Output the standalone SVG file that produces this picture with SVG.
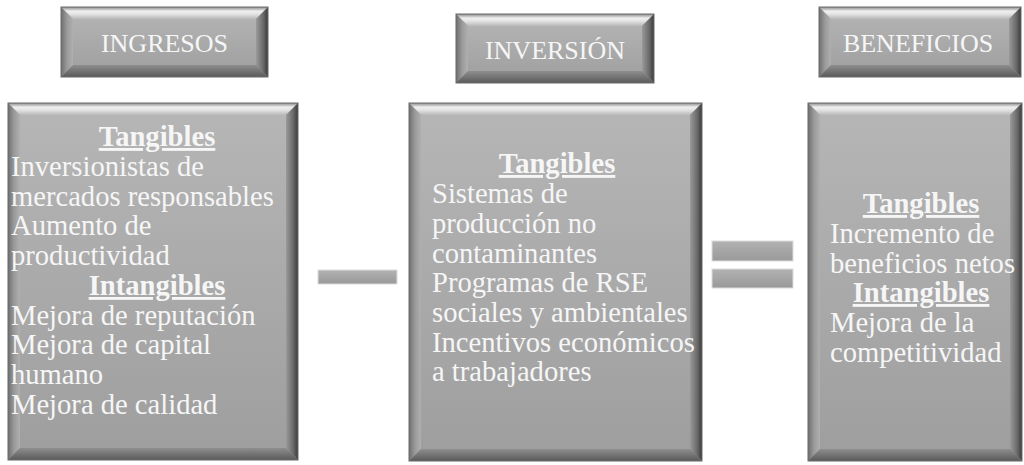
<svg xmlns="http://www.w3.org/2000/svg" width="1024" height="465" viewBox="0 0 1024 465">
<defs>
<linearGradient id="face" x1="0" y1="0" x2="0" y2="1"><stop offset="0" stop-color="#b6b6b6"/><stop offset="1" stop-color="#9e9e9e"/></linearGradient>
<linearGradient id="bt" x1="0" y1="0" x2="0" y2="1"><stop offset="0" stop-color="#8a8a8a"/><stop offset="0.35" stop-color="#f0f0f0"/><stop offset="0.6" stop-color="#e2e2e2"/><stop offset="1" stop-color="#b8b8b8"/></linearGradient>
<linearGradient id="bl" x1="0" y1="0" x2="1" y2="0"><stop offset="0" stop-color="#6e6e6e"/><stop offset="0.5" stop-color="#9a9a9a"/><stop offset="1" stop-color="#b0b0b0"/></linearGradient>
<linearGradient id="br" x1="0" y1="0" x2="1" y2="0"><stop offset="0" stop-color="#9a9a9a"/><stop offset="0.6" stop-color="#6a6a6a"/><stop offset="1" stop-color="#3a3a3a"/></linearGradient>
<linearGradient id="bb" x1="0" y1="0" x2="0" y2="1"><stop offset="0" stop-color="#8e8e8e"/><stop offset="1" stop-color="#5a5a5a"/></linearGradient>
<linearGradient id="bar" x1="0" y1="0" x2="0" y2="1"><stop offset="0" stop-color="#b2b2b2"/><stop offset="1" stop-color="#999999"/></linearGradient>
</defs>
<style>
.face{fill:url(#face)}
.bt{fill:url(#bt)}
.bl{fill:url(#bl)}
.br{fill:url(#br)}
.bb{fill:url(#bb)}
.edge{fill:none;stroke:#6a6a6a;stroke-width:1}
.bar{fill:url(#bar);stroke:#dcdcdc;stroke-width:1}
.hd{font-family:"Liberation Serif","Times New Roman",serif;font-size:26px;fill:#f6f6f6;text-anchor:middle}
.tx{font-family:"Liberation Serif","Times New Roman",serif;font-size:28.6px;fill:#f6f6f6}
.st{font-weight:bold;text-decoration:underline;text-anchor:middle}
</style>

<g id="header-ingresos">
<rect class="face" x="61" y="7" width="207" height="70"/>
<polygon class="bt" points="61,7 268,7 256,19 73,19"/>
<polygon class="bl" points="61,7 73,19 73,65 61,77"/>
<polygon class="br" points="268,7 268,77 256,65 256,19"/>
<polygon class="bb" points="61,77 73,65 256,65 268,77"/>
<rect class="edge" x="61" y="7" width="207" height="70"/>
<text class="hd" x="164.5" y="52">INGRESOS</text>
</g>

<g id="header-inversion">
<rect class="face" x="456" y="14" width="198" height="69"/>
<polygon class="bt" points="456,14 654,14 642,26 468,26"/>
<polygon class="bl" points="456,14 468,26 468,71 456,83"/>
<polygon class="br" points="654,14 654,83 642,71 642,26"/>
<polygon class="bb" points="456,83 468,71 642,71 654,83"/>
<rect class="edge" x="456" y="14" width="198" height="69"/>
<text class="hd" x="555" y="59">INVERSIÓN</text>
</g>

<g id="header-beneficios">
<rect class="face" x="819" y="7" width="202" height="70"/>
<polygon class="bt" points="819,7 1021,7 1009,19 831,19"/>
<polygon class="bl" points="819,7 831,19 831,65 819,77"/>
<polygon class="br" points="1021,7 1021,77 1009,65 1009,19"/>
<polygon class="bb" points="819,77 831,65 1009,65 1021,77"/>
<rect class="edge" x="819" y="7" width="202" height="70"/>
<text class="hd" x="918" y="52">BENEFICIOS</text>
</g>

<g id="box-ingresos">
<rect class="face" x="8" y="103" width="290" height="357"/>
<polygon class="bt" points="8,103 298,103 286,115 20,115"/>
<polygon class="bl" points="8,103 20,115 20,448 8,460"/>
<polygon class="br" points="298,103 298,460 286,448 286,115"/>
<polygon class="bb" points="8,460 20,448 286,448 298,460"/>
<rect class="edge" x="8" y="103" width="290" height="357"/>
<text class="tx st" x="157" y="146">Tangibles</text>
<text class="tx" x="11" y="176">Inversionistas de</text>
<text class="tx" x="11" y="206">mercados responsables</text>
<text class="tx" x="11" y="235">Aumento de</text>
<text class="tx" x="11" y="265">productividad</text>
<text class="tx st" x="157" y="295">Intangibles</text>
<text class="tx" x="11" y="325">Mejora de reputación</text>
<text class="tx" x="11" y="354">Mejora de capital</text>
<text class="tx" x="11" y="384">humano</text>
<text class="tx" x="11" y="414">Mejora de calidad</text>
</g>

<g id="box-inversion">
<rect class="face" x="409" y="103" width="293" height="358"/>
<polygon class="bt" points="409,103 702,103 690,115 421,115"/>
<polygon class="bl" points="409,103 421,115 421,449 409,461"/>
<polygon class="br" points="702,103 702,461 690,449 690,115"/>
<polygon class="bb" points="409,461 421,449 690,449 702,461"/>
<rect class="edge" x="409" y="103" width="293" height="358"/>
<text class="tx st" x="557" y="173">Tangibles</text>
<text class="tx" x="432" y="203">Sistemas de</text>
<text class="tx" x="432" y="233">producción no</text>
<text class="tx" x="432" y="263">contaminantes</text>
<text class="tx" x="432" y="292">Programas de RSE</text>
<text class="tx" x="432" y="322">sociales y ambientales</text>
<text class="tx" x="432" y="352">Incentivos económicos</text>
<text class="tx" x="432" y="381">a trabajadores</text>
</g>

<g id="box-beneficios">
<rect class="face" x="808" y="103" width="214" height="358"/>
<polygon class="bt" points="808,103 1022,103 1010,115 820,115"/>
<polygon class="bl" points="808,103 820,115 820,449 808,461"/>
<polygon class="br" points="1022,103 1022,461 1010,449 1010,115"/>
<polygon class="bb" points="808,461 820,449 1010,449 1022,461"/>
<rect class="edge" x="808" y="103" width="214" height="358"/>
<text class="tx st" x="921" y="213">Tangibles</text>
<text class="tx" x="830" y="243">Incremento de</text>
<text class="tx" x="830" y="273">beneficios netos</text>
<text class="tx st" x="921" y="302">Intangibles</text>
<text class="tx" x="830" y="332">Mejora de la</text>
<text class="tx" x="830" y="362">competitividad</text>
</g>

<g id="connectors">
<rect class="bar" x="318" y="270" width="79" height="14"/>
<rect class="bar" x="712" y="241" width="81" height="20"/>
<rect class="bar" x="712" y="269" width="81" height="19"/>
</g>
</svg>
